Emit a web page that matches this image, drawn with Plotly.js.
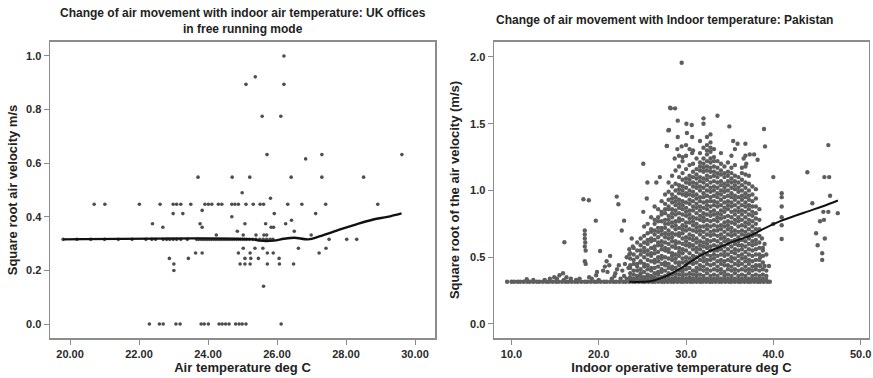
<!DOCTYPE html>
<html>
<head>
<meta charset="utf-8">
<script src="https://cdn.plot.ly/plotly-3.0.1.min.js"></script>
<style>html,body{margin:0;padding:0;background:#fff;}#chart{width:873px;height:378px;}</style>
</head>
<body>
<div id="chart"></div>
<script>
// ---------- UK offices (left panel) ----------
const ukLevels = [1.0, 0.922, 0.894, 0.775, 0.632, 0.616, 0.548, 0.49, 0.469, 0.447, 0.424, 0.412, 0.40, 0.387, 0.374, 0.361, 0.346, 0.332, 0.316, 0.283, 0.265, 0.245, 0.224, 0.2, 0.141, 0.0];
const ukTempsAtLevel = [
  [26.20],
  [25.37],
  [25.10, 26.20],
  [25.57, 26.11],
  [25.71, 27.30, 29.62],
  [26.83],
  [23.71, 24.70, 25.21, 26.41, 27.30, 28.51],
  [24.99],
  [25.81],
  [20.70, 21.01, 22.01, 22.61, 22.99, 23.09, 23.21, 23.50, 23.91, 24.01, 24.11, 24.30, 24.40, 24.69, 24.78, 24.88, 25.10, 25.31, 25.51, 25.61, 26.31, 26.72, 27.41, 28.92],
  [23.83],
  [22.99, 23.27, 25.92, 27.12],
  [24.69],
  [26.42],
  [22.39, 23.77, 25.07, 25.67, 26.25],
  [22.69, 23.83, 25.83, 25.90],
  [24.85, 26.50],
  [24.24, 25.02, 25.39, 25.62, 25.70, 26.99],
  [19.80, 20.20, 20.60, 21.00, 21.40, 21.80, 22.20, 22.37, 22.48, 22.70, 22.80, 22.89, 22.99, 23.09, 23.21, 23.40, 23.67, 23.73, 23.80, 23.86, 23.92, 23.98, 24.04, 24.10, 24.16, 24.22, 24.28, 24.34, 24.40, 24.46, 24.52, 24.58, 24.64, 24.70, 24.76, 24.82, 24.88, 24.94, 25.00, 25.06, 25.12, 25.20, 25.30, 25.39, 25.50, 25.60, 25.70, 25.80, 25.88, 27.51, 28.02, 28.31],
  [25.02, 25.36, 25.59, 26.62, 27.42],
  [23.64, 23.83, 24.88, 25.22, 25.72, 25.89, 27.22],
  [22.88, 23.43, 25.07, 25.24, 25.46, 26.06],
  [23.01, 24.93, 25.07, 25.22, 25.72, 26.07, 26.48],
  [23.01],
  [25.61],
  [22.30, 22.59, 22.70, 23.07, 23.19, 23.80, 23.89, 24.01, 24.32, 24.41, 24.51, 24.61, 24.80, 24.90, 24.99, 25.10, 26.12]
];
const ukFitTemp = [19.8, 25.3, 25.5, 25.9, 26.2, 26.5, 26.9, 27.25, 27.83, 28.3, 28.79, 29.2, 29.61];
const ukFitVel  = [0.316, 0.316, 0.311, 0.311, 0.318, 0.322, 0.316, 0.328, 0.353, 0.372, 0.39, 0.40, 0.413];

// ---------- Pakistan (right panel) ----------
const pkColTemp = [23.6, 24.0, 24.4, 24.8, 25.2, 25.6, 26.0, 26.4, 26.8, 27.2, 27.6, 28.0, 28.4, 28.8, 29.2, 29.6, 30.0, 30.4, 30.8, 31.2, 31.6, 32.0, 32.4, 32.8, 33.2, 33.6, 34.0, 34.4, 34.8, 35.2, 35.6, 36.0, 36.4, 36.8, 37.2, 37.6, 38.0, 38.4, 38.8, 39.2];
// velocities (hundredths of sqrt m/s) of the points in each temperature column
const pkColVel = [
  "33 35 38 42 44 49 53",
  "33 34 37 40 45 48 52 57",
  "34 36 40 43 45 50 55 61",
  "33 36 38 41 46 47 52 55 59 64",
  "34 35 39 43 45 50 54 57 61 66 73",
  "33 36 37 41 44 48 52 55 60 63 68 75",
  "34 36 40 42 47 51 53 57 62 64 69 71 80",
  "33 35 38 42 46 48 53 56 58 63 67 70 75 78 88",
  "34 37 39 43 47 50 54 59 61 65 69 72 77 80 86",
  "33 35 39 41 45 49 51 56 59 62 67 70 72 77 82 84 92",
  "34 36 40 44 46 50 55 57 61 65 68 72 75 78 83 86 90 97",
  "33 36 38 42 45 49 54 56 60 64 67 70 75 78 81 86 88 93 99 106",
  "34 37 41 43 48 51 53 58 62 65 68 73 76 80 83 86 91 94 97 103 111",
  "33 35 38 42 46 49 52 57 60 62 67 71 74 77 82 85 89 92 95 100 105 115",
  "34 37 40 44 46 51 54 57 61 66 68 72 77 79 83 87 90 93 98 101 104 110 118",
  "33 36 39 41 46 49 53 56 60 64 68 71 74 78 82 86 89 92 97 100 103 108 113 122",
  "34 37 41 44 47 50 55 59 62 65 70 73 76 81 84 87 91 96 98 102 106 109 116 126",
  "33 35 38 42 46 49 53 58 60 64 67 71 76 79 82 85 90 93 97 100 105 108 111 119",
  "34 37 40 45 48 51 56 59 63 66 70 74 77 80 85 88 92 96 99 103 106 110 114 120 130",
  "33 36 39 42 46 50 54 57 61 64 69 72 75 79 83 87 90 94 97 102 105 109 112 116 124",
  "34 37 41 44 48 52 56 59 62 67 70 73 78 81 85 88 92 95 100 103 107 110 115 118 121 128 137",
  "33 36 40 43 47 50 54 58 61 65 69 73 77 80 83 87 91 95 98 102 106 109 114 117 120 124 132",
  "34 38 41 45 48 52 57 60 63 67 71 74 78 82 86 89 92 96 100 104 108 111 115 118 122 127 130 134 140",
  "33 36 40 44 48 51 55 58 62 66 69 73 77 81 84 88 92 95 99 102 106 110 114 117 121 124 129 132 136 142",
  "34 37 41 45 49 52 55 59 63 67 70 74 78 82 85 89 92 96 100 103 107 111 114 118 122 125 131",
  "33 36 40 43 47 51 55 58 62 66 70 73 77 80 83 88 91 95 98 102 106 110 113 117 122",
  "34 38 41 45 48 52 56 60 64 67 71 74 79 82 85 89 93 97 100 104 107 112 115 120 128",
  "33 36 39 44 47 51 54 58 62 65 69 73 76 80 84 87 91 95 99 102 105 110 113 118",
  "34 37 41 44 48 52 56 60 63 67 71 74 77 81 86 89 92 96 100 104 107 111 114 121",
  "33 36 40 43 47 50 54 58 62 66 69 72 76 80 84 88 91 95 98 102 106 109 113 117 126",
  "34 38 41 45 49 53 56 60 63 67 70 75 78 82 85 89 93 96 101 104 107 111 119 131",
  "33 36 40 44 47 51 55 59 62 65 69 73 77 80 84 87 91 95 99 102 106 110",
  "34 37 41 45 49 52 56 59 63 67 70 74 78 82 85 89 93 96 100 104 108 113 117",
  "33 36 40 43 47 50 54 58 62 66 69 73 76 80 84 88 91 95 98 102 106 112 118 126",
  "34 38 41 45 48 52 56 60 64 67 71 75 78 82 86 89 93 96 100 105 111",
  "33 36 40 43 47 51 55 59 62 66 69 73 77 81 84 88 92 97 103",
  "34 37 41 44 48 52 56 60 63 67 71 75 79 83 88 94 101",
  "33 36 40 44 48 52 57 61 66 71 78 86",
  "34 37 41 46 51 57",
  "33 36 40"
];
// points lying on the 0.316 floor
const pkBaseTemp = [9.5, 10.0, 10.3, 10.7, 11.0, 11.4, 11.8, 12.1, 12.5, 12.9, 13.2, 13.6, 14.0, 14.3, 14.7, 15.1, 15.4, 15.8, 16.2, 16.5, 16.9, 17.3, 17.6, 18.0, 18.4, 18.7, 19.1, 19.5, 19.8, 20.2, 20.6, 20.9, 21.3, 21.7, 22.0, 22.4, 22.8, 23.1, 23.5, 23.9, 24.2, 24.6, 25.0, 25.3, 25.7, 26.1, 26.4, 26.8, 27.2, 27.5, 27.9, 28.3, 28.6, 29.0, 29.4, 29.7, 30.1, 30.5, 30.8, 31.2, 31.6, 31.9, 32.3, 32.7, 33.0, 33.4, 33.8, 34.1, 34.5, 34.9, 35.2, 35.6, 36.0, 36.3, 36.7, 37.1, 37.4, 37.8, 38.2, 38.5, 38.9, 39.3, 39.6];
const pkBaseVel = 0.316;
// scattered points outside the dense cloud
const pkOutTemp = [11.75,12.5,13.8,14.4,14.9,15.2,15.5,15.9,16.0,16.3,16.8,16.06,17.4,17.8,18.24,18.86,18.4,18.4,18.4,18.45,18.4,18.5,18.4,18.5,18.9,19.2,19.66,19.7,19.8,20.0,20.15,20.5,20.7,20.9,21.0,21.2,21.3,21.5,21.8,21.9,22.1,22.06,22.25,22.3,22.5,22.63,22.7,22.9,22.9,23.0,23.2,23.2,23.4,23.5,23.5,23.78,23.9,25.1,25.57,25.1,25.5,26.6,27.0,27.79,27.97,28.17,28.25,28.74,29.5,29.05,30.04,30.65,32.0,32.0,33.6,34.96,28.05,30.1,30.7,29.05,27.8,29.0,29.5,30.0,30.4,30.7,28.7,29.2,29.6,38.93,39.05,35.4,35.9,36.8,37.3,37.8,38.2,36.6,36.9,40.0,40.96,40.96,40.96,40.96,40.96,40.96,40.0,43.9,44.47,44.9,45.08,45.35,45.6,45.6,45.8,45.9,45.85,46.4,46.3,45.73,46.3,46.5,47.38,38.0,38.5,39.0,39.5,38.5,38.8,39.0,39.2,38.7];
const pkOutVel  = [0.335,0.33,0.33,0.34,0.35,0.34,0.365,0.38,0.33,0.35,0.34,0.612,0.33,0.34,0.934,0.927,0.70,0.67,0.64,0.61,0.58,0.55,0.47,0.45,0.35,0.34,0.774,0.365,0.39,0.33,0.547,0.40,0.43,0.47,0.39,0.44,0.51,0.34,0.36,0.38,0.41,0.954,0.897,0.44,0.34,0.70,0.40,0.774,0.36,0.45,0.50,0.34,0.42,0.52,0.56,0.64,0.58,1.2,1.06,0.84,0.94,1.06,1.10,1.334,1.45,1.62,1.615,1.615,1.957,1.523,1.50,1.49,1.54,1.50,1.56,1.48,1.453,1.43,1.40,1.40,1.333,1.31,1.33,1.34,1.31,1.28,1.24,1.26,1.25,1.46,1.33,1.37,1.35,1.35,1.27,1.27,1.23,1.24,1.20,1.10,0.98,0.95,0.88,0.80,0.74,0.637,0.75,1.136,0.904,0.68,0.59,0.77,0.53,0.48,0.78,0.64,1.10,1.10,1.34,0.84,0.84,0.96,0.83,0.434,0.434,0.434,0.434,0.50,0.55,0.60,0.52,0.64];
const pkFitTemp = [23.5, 25.9, 27.0, 27.8, 28.8, 29.7, 30.6, 31.6, 32.5, 33.5, 35.4, 37.3, 38.5, 40.8, 43.8, 45.6, 47.4];
const pkFitVel  = [0.316, 0.32, 0.34, 0.36, 0.395, 0.43, 0.47, 0.51, 0.54, 0.567, 0.617, 0.66, 0.70, 0.77, 0.84, 0.88, 0.925];

// ---------- build trace arrays ----------
const ukX = [], ukY = [];
ukLevels.forEach((v, i) => ukTempsAtLevel[i].forEach(t => { ukX.push(t); ukY.push(v); }));

const pkX = [], pkY = [];
pkBaseTemp.forEach(t => { pkX.push(t); pkY.push(pkBaseVel); });
pkColTemp.forEach((t, i) => pkColVel[i].split(' ').forEach(s => { pkX.push(t); pkY.push(Number(s) / 100); }));
pkOutTemp.forEach((t, i) => { pkX.push(t); pkY.push(pkOutVel[i]); });

const FONT = '"Liberation Sans", Arial, sans-serif';

const traces = [
  {type: 'scatter', mode: 'markers', x: ukX, y: ukY, xaxis: 'x', yaxis: 'y', marker: {color: '#4d4d4d', size: 3.6, line: {width: 0}}, hoverinfo: 'x+y'},
  {type: 'scatter', mode: 'lines', x: ukFitTemp, y: ukFitVel, xaxis: 'x', yaxis: 'y', line: {color: '#111', width: 2.4, shape: 'spline'}},
  {type: 'scatter', mode: 'markers', x: pkX, y: pkY, xaxis: 'x2', yaxis: 'y2', marker: {color: '#5e5e5e', size: 4.4, line: {width: 0}}, hoverinfo: 'x+y'},
  {type: 'scatter', mode: 'lines', x: pkFitTemp, y: pkFitVel, xaxis: 'x2', yaxis: 'y2', line: {color: '#111', width: 2, shape: 'spline'}}
];

const axisCommon = {
  showline: true, mirror: true, linecolor: '#8c8c8c', linewidth: 1.5,
  ticks: 'outside', ticklen: 5, tickwidth: 1, tickcolor: '#8c8c8c',
  showgrid: false, zeroline: false, automargin: false,
  tickfont: {family: FONT, size: 11, color: '#2a2a2a', weight: 'bold'}
};
const titleFont = {family: FONT, size: 13, color: '#222'};

const layout = {
  width: 873, height: 378,
  margin: {l: 0, r: 0, t: 0, b: 0},
  paper_bgcolor: '#fff', plot_bgcolor: '#fff',
  showlegend: false,
  font: {family: FONT},
  xaxis: Object.assign({}, axisCommon, {
    domain: [0.0573, 0.4983], range: [19.42, 30.58], anchor: 'y',
    tick0: 0, dtick: 2, tickformat: '.2f',
    title: {text: '<b>Air temperature deg C</b>', font: titleFont, standoff: 4}
  }),
  yaxis: Object.assign({}, axisCommon, {
    domain: [0.1058, 0.8889], range: [-0.052, 1.052], anchor: 'x',
    tick0: 0, dtick: 0.2, tickformat: '.1f',
    title: {text: '<b>Square root air velocity m/s</b>', font: titleFont, standoff: 5}
  }),
  xaxis2: Object.assign({}, axisCommon, {
    domain: [0.5659, 0.9954], range: [8.0, 50.96], anchor: 'y2',
    tick0: 0, dtick: 10, tickformat: '.1f',
    title: {text: '<b>Indoor operative temperature deg C</b>', font: titleFont, standoff: 4}
  }),
  yaxis2: Object.assign({}, axisCommon, {
    domain: [0.1058, 0.8889], range: [-0.105, 2.112], anchor: 'x2',
    tick0: 0, dtick: 0.5, tickformat: '.1f',
    title: {text: '<b>Square root of the air velocity (m/s)</b>', font: titleFont, standoff: 7}
  }),
  annotations: [
    {text: '<b>Change of air movement with indoor air temperature: UK offices<br>in free running mode</b>',
     xref: 'paper', yref: 'paper', x: 0.2778, y: 0.9444, xanchor: 'center', yanchor: 'middle',
     showarrow: false, font: {family: FONT, size: 12, color: '#222'}},
    {text: '<b>Change of air movement with Indoor temperature: Pakistan</b>',
     xref: 'paper', yref: 'paper', x: 0.7617, y: 0.947, xanchor: 'center', yanchor: 'middle',
     showarrow: false, font: {family: FONT, size: 12, color: '#222'}}
  ]
};

Plotly.newPlot('chart', traces, layout, {displayModeBar: false, staticPlot: true});
</script>
</body>
</html>
